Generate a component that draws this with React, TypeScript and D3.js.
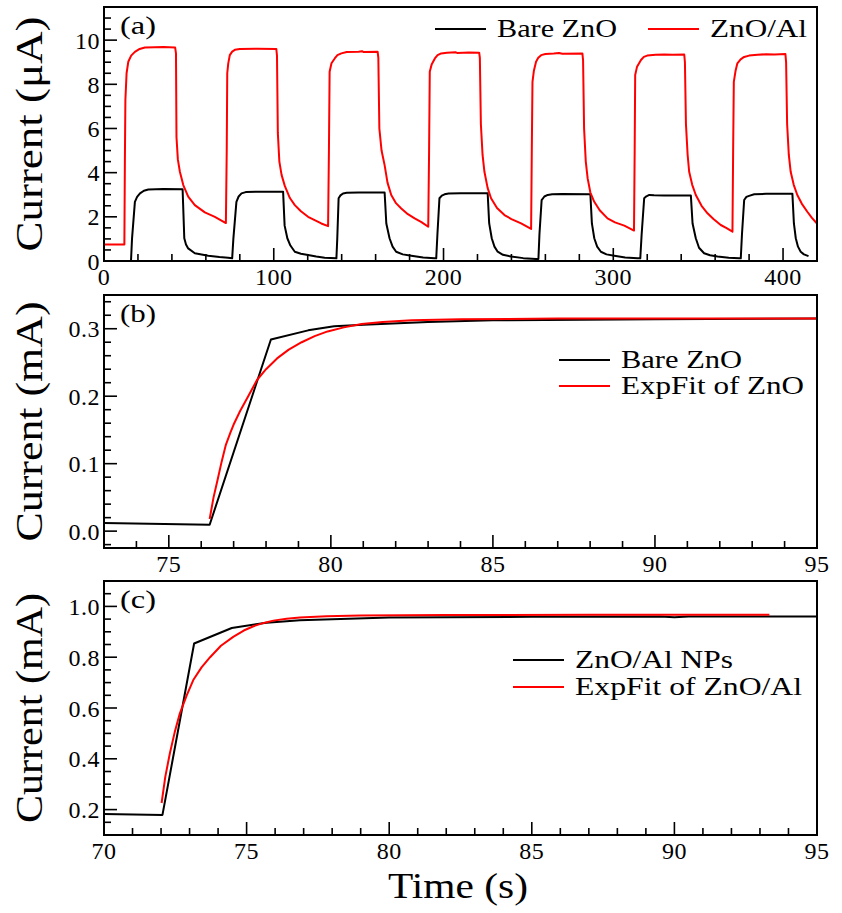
import React from "react";
import * as d3 from "d3";

// ---------- DATA ----------
// Panel (a): current (µA) vs time (s)
const znoAlA: [number, number][] = [
  [0, 0.75], [12, 0.75], [12.3, 4.5], [12.6, 7.3], [13.3, 8.5], [14.3, 9.02], [16, 9.3], [18.2, 9.47], [21, 9.6], [24.1, 9.67], [30, 9.68], [35, 9.69], [41.9, 9.67],
  [42.4, 9.4], [42.7, 5.6], [43.5, 4.6], [44.7, 4.04], [46.7, 3.44], [49.6, 2.91], [53.5, 2.53], [59.4, 2.2], [65.3, 2.0], [71.8, 1.72],
  [72.3, 5.0], [72.6, 8.5], [73.2, 8.95], [74.1, 9.32], [75.5, 9.48], [77.1, 9.56], [80, 9.6], [90, 9.61], [101.5, 9.6],
  [101.9, 9.3], [102.4, 5.8], [103.3, 4.5], [104.6, 3.9], [106.5, 3.4], [109.5, 2.85], [112.4, 2.53], [116, 2.25], [120.2, 2.0], [128, 1.7], [132, 1.58],
  [132.5, 5.0], [132.9, 8.57], [134, 8.95], [135.9, 9.17], [137.5, 9.32], [139.8, 9.4], [143, 9.46], [150, 9.47], [152, 9.5], [153, 9.46], [161.2, 9.47],
  [161.6, 9.2], [162.2, 6.0], [163.5, 5.0], [165.3, 4.34], [167, 3.55], [169.2, 2.99], [172, 2.62], [175.1, 2.38], [179, 2.12], [183, 1.93], [187, 1.76], [191, 1.55],
  [191.5, 5.0], [191.9, 8.57], [193, 8.9], [194.9, 9.17], [196.5, 9.32], [198.6, 9.4], [202, 9.43], [207, 9.45], [208, 9.42], [215, 9.44], [221, 9.43],
  [221.4, 9.2], [222, 6.2], [223, 4.8], [224.1, 4.04], [226, 3.3], [228, 2.84], [231.5, 2.4], [235.9, 2.08], [240, 1.9], [245.7, 1.7], [251.6, 1.45],
  [252, 5.0], [252.4, 8.11], [253.2, 8.6], [254.5, 9.02], [255.8, 9.2], [257.5, 9.32], [260, 9.37], [265, 9.39], [268, 9.42], [270, 9.38], [281.8, 9.4],
  [282.2, 9.1], [282.8, 6.0], [283.8, 4.5], [284.9, 3.74], [286.5, 3.1], [288.8, 2.68], [292, 2.3], [296.6, 1.93], [301, 1.75], [306.5, 1.6], [312.2, 1.38],
  [312.6, 5.0], [312.9, 8.42], [314, 8.8], [316.3, 9.1], [318, 9.24], [320, 9.3], [325, 9.34], [330, 9.35], [335, 9.34], [341.8, 9.35],
  [342.2, 9.0], [342.8, 6.2], [343.8, 4.8], [344.7, 4.04], [346.5, 3.45], [348.6, 2.99], [352, 2.5], [355.5, 2.16], [359, 1.9], [363.3, 1.63], [366.5, 1.5], [370.2, 1.33],
  [370.6, 5.0], [371, 8.11], [372, 8.6], [373.1, 8.95], [375, 9.13], [377.1, 9.24], [380, 9.3], [385, 9.34], [390, 9.36], [395, 9.35], [401.4, 9.37],
  [401.8, 9.0], [402.4, 6.2], [403.4, 4.8], [404.5, 4.04], [406.3, 3.45], [408.4, 2.99], [411, 2.6], [414.3, 2.23], [417, 1.95], [420, 1.7],
];

const bareZnoA: [number, number][] = [
  [0, 0.0], [15.9, 0.0], [16.5, 1.0], [18.2, 2.68], [19.5, 2.9], [21.2, 3.06], [23.5, 3.18], [26.1, 3.24], [35, 3.26], [46.3, 3.25],
  [47.3, 1.03], [48.3, 0.75], [49.6, 0.57], [53.5, 0.35], [61.4, 0.24], [68, 0.18], [73.1, 0.15], [75.5, 0.12],
  [76.2, 1.0], [78.0, 2.68], [79.3, 2.92], [81, 3.06], [83.5, 3.12], [90, 3.14], [105.5, 3.14],
  [106.4, 1.6], [108, 1.03], [109.8, 0.7], [112.4, 0.42], [116, 0.33], [120.2, 0.27], [125, 0.2], [130, 0.15], [136.9, 0.12],
  [137.4, 1.0], [138.2, 2.84], [139.3, 2.97], [140.8, 3.06], [143, 3.09], [150, 3.1], [165.3, 3.1],
  [166.3, 1.7], [168.2, 1.03], [170, 0.65], [172.1, 0.42], [176, 0.3], [181, 0.24], [188, 0.16], [194.7, 0.12], [195.7, 0.12],
  [196.4, 1.2], [197.6, 2.84], [199, 2.96], [200.6, 3.02], [203, 3.06], [210, 3.07], [226, 3.07],
  [226.9, 1.7], [228.4, 1.03], [230, 0.65], [231.9, 0.42], [235, 0.28], [239.8, 0.2], [247, 0.13], [254.5, 0.09], [255.9, 0.09],
  [256.5, 1.2], [257.8, 2.76], [259.4, 2.92], [261.4, 2.99], [264, 3.02], [270, 3.03], [286.5, 3.02],
  [287.4, 1.7], [288.8, 1.03], [290.5, 0.65], [292.7, 0.42], [296, 0.3], [300.6, 0.24], [307, 0.16], [314.3, 0.12], [315.9, 0.12],
  [316.7, 1.2], [318.2, 2.84], [319.5, 2.93], [321.2, 2.99], [324, 2.98], [330, 2.97], [345.7, 2.96],
  [346.7, 1.7], [348.6, 1.03], [350.5, 0.6], [353.5, 0.35], [357, 0.26], [361.4, 0.2], [368, 0.15], [374.1, 0.12], [375.1, 0.12],
  [375.8, 1.2], [377.1, 2.76], [378.4, 2.9], [380, 2.95], [383, 3.02], [390, 3.04], [395, 3.05], [405.5, 3.05],
  [406.4, 1.7], [407.5, 1.03], [408.8, 0.65], [410.4, 0.42], [412.3, 0.3], [415, 0.22],
];

// Panel (b): current (mA) vs time (s)
const bareZnoB: [number, number][] = [
  [73, 0.012], [76.26, 0.0095], [78.15, 0.284], [79.3, 0.2976], [80.1, 0.3036], [81, 0.306], [83, 0.31], [85, 0.3125], [90, 0.314], [95, 0.315],
];
const fitZnoB: [number, number][] = [
  [76.26, 0.018], [76.38, 0.05], [76.5, 0.075], [76.63, 0.103], [76.76, 0.128], [76.9, 0.146], [77.0, 0.158], [77.2, 0.178], [77.45, 0.2],
  [77.72, 0.224], [78.0, 0.24], [78.34, 0.256], [78.7, 0.269], [79.1, 0.28], [79.5, 0.289], [79.9, 0.296], [80.4, 0.302], [80.95, 0.307],
  [81.6, 0.31], [82.5, 0.3125], [84, 0.314], [87, 0.315], [95, 0.315],
];

// Panel (c): current (mA) vs time (s)
const znoAlC: [number, number][] = [
  [70, 0.183], [72.05, 0.179], [73.16, 0.854], [74.48, 0.915], [75.7, 0.936], [76.87, 0.945], [80, 0.956], [85, 0.959], [89.5, 0.96], [90, 0.957], [90.5, 0.96], [95, 0.96],
];
const fitZnoAlC: [number, number][] = [
  [72.02, 0.226], [72.15, 0.33], [72.31, 0.422], [72.48, 0.505], [72.66, 0.579], [72.9, 0.65], [73.13, 0.71], [73.42, 0.76], [73.72, 0.8],
  [74.1, 0.845], [74.53, 0.88], [74.9, 0.905], [75.24, 0.922], [75.6, 0.935], [75.94, 0.944], [76.4, 0.951], [76.87, 0.956], [77.8, 0.961],
  [79, 0.964], [82, 0.966], [87, 0.967], [93.33, 0.967],
];

// Ticks
const aXMajor = [0, 100, 200, 300, 400];
const aXMinor = [20, 40, 60, 80, 120, 140, 160, 180, 220, 240, 260, 280, 320, 340, 360, 380, 420];
const aYMajor = [0, 2, 4, 6, 8, 10];
const aYMinor = [0.5, 1, 1.5, 2.5, 3, 3.5, 4.5, 5, 5.5, 6.5, 7, 7.5, 8.5, 9, 9.5, 10.5, 11, 11.5];
const bXMajor = [75, 80, 85, 90, 95];
const bXMinor = [73, 74, 76, 77, 78, 79, 81, 82, 83, 84, 86, 87, 88, 89, 91, 92, 93, 94];
const bYMajor = [0.0, 0.1, 0.2, 0.3];
const bYMinor = [-0.02, 0.02, 0.04, 0.06, 0.08, 0.12, 0.14, 0.16, 0.18, 0.22, 0.24, 0.26, 0.28, 0.32, 0.34];
const cXMajor = [70, 75, 80, 85, 90, 95];
const cXMinor = [71, 72, 73, 74, 76, 77, 78, 79, 81, 82, 83, 84, 86, 87, 88, 89, 91, 92, 93, 94];
const cYMajor = [0.2, 0.4, 0.6, 0.8, 1.0];
const cYMinor = [0.15, 0.25, 0.3, 0.35, 0.45, 0.5, 0.55, 0.65, 0.7, 0.75, 0.85, 0.9, 0.95, 1.05];

const FONT = "Liberation Serif";
const LEFT = 104;
const RIGHT = 817;

type Series = { data: [number, number][]; color: string };
type LegendItem = { label: string; color: string; width: number };

interface PanelProps {
  id: string;
  top: number;
  bottom: number;
  xDomain: [number, number];
  yDomain: [number, number];
  xMajor: number[];
  xMinor: number[];
  yMajor: number[];
  yMinor: number[];
  yFmt: (v: number) => string;
  series: Series[];
  tag: string;
  yLabel: string;
  yLabelLen: number;
  legend: React.ReactNode;
}

function Panel(p: PanelProps) {
  const x = d3.scaleLinear().domain(p.xDomain).range([LEFT, RIGHT]);
  const y = d3.scaleLinear().domain(p.yDomain).range([p.bottom, p.top]);
  const line = d3
    .line<[number, number]>()
    .x((d) => x(d[0]))
    .y((d) => y(d[1]));
  const cy = (p.top + p.bottom) / 2;
  const MAJ = 13;
  const MIN = 7;
  return (
    <g>
      <defs>
        <clipPath id={`clip-${p.id}`}>
          <rect x={LEFT} y={p.top} width={RIGHT - LEFT} height={p.bottom - p.top} />
        </clipPath>
      </defs>
      <g clipPath={`url(#clip-${p.id})`}>
        {p.series.map((s, i) => (
          <path key={i} d={line(s.data) || ""} fill="none" stroke={s.color} strokeWidth={2} strokeLinejoin="round" />
        ))}
      </g>
      <g stroke="#000" strokeWidth={1.6}>
        {p.xMajor.map((v) => (
          <line key={`xM${v}`} x1={x(v)} x2={x(v)} y1={p.bottom} y2={p.bottom - MAJ} />
        ))}
        {p.xMinor.map((v) => (
          <line key={`xm${v}`} x1={x(v)} x2={x(v)} y1={p.bottom} y2={p.bottom - MIN} />
        ))}
        {p.yMajor.map((v) => (
          <line key={`yM${v}`} x1={LEFT} x2={LEFT + MAJ} y1={y(v)} y2={y(v)} />
        ))}
        {p.yMinor.map((v) => (
          <line key={`ym${v}`} x1={LEFT} x2={LEFT + MIN} y1={y(v)} y2={y(v)} />
        ))}
      </g>
      <rect x={LEFT} y={p.top} width={RIGHT - LEFT} height={p.bottom - p.top} fill="none" stroke="#000" strokeWidth={2} />
      <g fontFamily={FONT} fontSize={24} fill="#000">
        {p.xMajor.map((v) => (
          <text key={`xl${v}`} x={x(v)} y={p.bottom + 24} textAnchor="middle" letterSpacing={0.5}>
            {String(v)}
          </text>
        ))}
        {p.yMajor.map((v) => (
          <text key={`yl${v}`} x={100} y={y(v) + 8.5} textAnchor="end" letterSpacing={0.5}>
            {p.yFmt(v)}
          </text>
        ))}
      </g>
      <text x={120} y={p.top + 27} fontFamily={FONT} fontSize={26} textLength={36} lengthAdjust="spacingAndGlyphs">
        {p.tag}
      </text>
      <text
        transform={`translate(42,${cy}) rotate(-90)`}
        textAnchor="middle"
        fontFamily={FONT}
        fontSize={37}
        textLength={p.yLabelLen}
        lengthAdjust="spacingAndGlyphs"
      >
        {p.yLabel}
      </text>
      {p.legend}
    </g>
  );
}

function LegendEntry({ x1, x2, ly, label, color, width }: { x1: number; x2: number; ly: number; label: string; color: string; width: number }) {
  return (
    <g>
      <line x1={x1} x2={x2} y1={ly} y2={ly} stroke={color} strokeWidth={2} />
      <text x={x2 + 11} y={ly + 7.5} fontFamily={FONT} fontSize={25} textLength={width} lengthAdjust="spacingAndGlyphs">
        {label}
      </text>
    </g>
  );
}

const legendA: LegendItem[] = [
  { label: "Bare ZnO", color: "#000000", width: 120 },
  { label: "ZnO/Al", color: "#ff0000", width: 97 },
];
const legendB: LegendItem[] = [
  { label: "Bare ZnO", color: "#000000", width: 121 },
  { label: "ExpFit of ZnO", color: "#ff0000", width: 183 },
];
const legendC: LegendItem[] = [
  { label: "ZnO/Al NPs", color: "#000000", width: 158 },
  { label: "ExpFit of ZnO/Al", color: "#ff0000", width: 227 },
];

export default function App() {
  const fmtInt = (v: number) => d3.format("d")(v);
  const fmt1 = (v: number) => d3.format(".1f")(v);
  return (
    <svg
      width={842}
      height={913}
      viewBox="0 0 842 913"
      style={{ position: "absolute", left: 0, top: 0, background: "#fff" }}
    >
      <rect x={0} y={0} width={842} height={913} fill="#fff" />
      <Panel
        id="a"
        top={7}
        bottom={261}
        xDomain={[0, 420]}
        yDomain={[0, 11.5]}
        xMajor={aXMajor}
        xMinor={aXMinor}
        yMajor={aYMajor}
        yMinor={aYMinor}
        yFmt={fmtInt}
        series={[
          { data: bareZnoA, color: "#000000" },
          { data: znoAlA, color: "#ff0000" },
        ]}
        tag="(a)"
        yLabel="Current (μA)"
        yLabelLen={235}
        legend={
          <g>
            <LegendEntry x1={435} x2={486} ly={29} {...legendA[0]} />
            <LegendEntry x1={648} x2={699} ly={29} {...legendA[1]} />
          </g>
        }
      />
      <Panel
        id="b"
        top={295}
        bottom={548}
        xDomain={[73, 95]}
        yDomain={[-0.025, 0.35]}
        xMajor={bXMajor}
        xMinor={bXMinor}
        yMajor={bYMajor}
        yMinor={bYMinor}
        yFmt={fmt1}
        series={[
          { data: bareZnoB, color: "#000000" },
          { data: fitZnoB, color: "#ff0000" },
        ]}
        tag="(b)"
        yLabel="Current (mA)"
        yLabelLen={240}
        legend={
          <g>
            <LegendEntry x1={559} x2={610} ly={360} {...legendB[0]} />
            <LegendEntry x1={559} x2={610} ly={386} {...legendB[1]} />
          </g>
        }
      />
      <Panel
        id="c"
        top={581}
        bottom={835}
        xDomain={[70, 95]}
        yDomain={[0.1, 1.1]}
        xMajor={cXMajor}
        xMinor={cXMinor}
        yMajor={cYMajor}
        yMinor={cYMinor}
        yFmt={fmt1}
        series={[
          { data: znoAlC, color: "#000000" },
          { data: fitZnoAlC, color: "#ff0000" },
        ]}
        tag="(c)"
        yLabel="Current (mA)"
        yLabelLen={230}
        legend={
          <g>
            <LegendEntry x1={513} x2={564} ly={660} {...legendC[0]} />
            <LegendEntry x1={513} x2={564} ly={687} {...legendC[1]} />
          </g>
        }
      />
      <text x={458} y={898} textAnchor="middle" fontFamily={FONT} fontSize={36} textLength={140} lengthAdjust="spacingAndGlyphs">
        Time (s)
      </text>
    </svg>
  );
}
